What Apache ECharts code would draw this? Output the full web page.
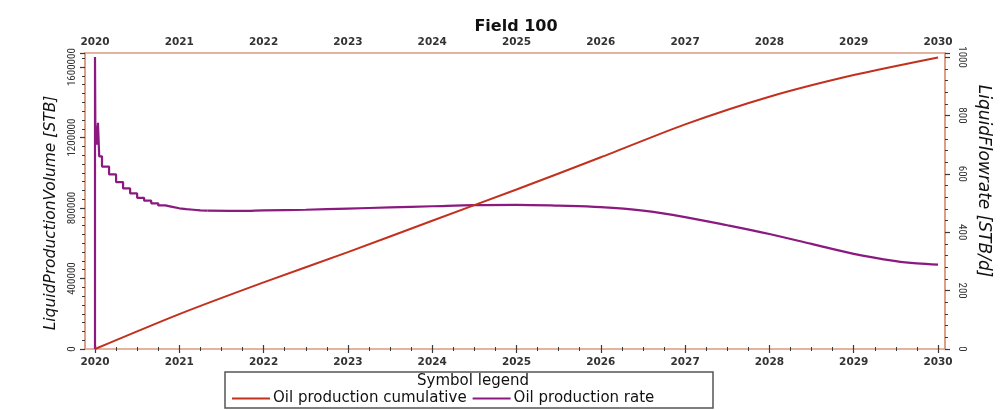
<!DOCTYPE html>
<html>
<head>
<meta charset="utf-8">
<script src="https://cdn.jsdelivr.net/npm/echarts@6/dist/echarts.min.js"></script>
<style>
  html, body { margin: 0; padding: 0; background: #ffffff; }
  #chart { width: 1005px; height: 410px; }
</style>
</head>
<body>
<div id="chart"></div>
<script>
// Field 100 – oil production forecast 2020–2030
const titleText = 'Field 100';
const legendTitle = 'Symbol legend';
const cumName = 'Oil production cumulative';
const rateName = 'Oil production rate';
const leftAxisName = 'LiquidProductionVolume [STB]';
const rightAxisName = 'LiquidFlowrate [STB/d]';
const yearMin = 2020;
const yearMax = 2030;

// Cumulative oil production [STB] at the start of each year
const cumYears  = [2020, 2021, 2022, 2023, 2024, 2025, 2026, 2027, 2028, 2029, 2030];
const cumValues = [0, 198000, 378000, 550000, 728000, 905000, 1088000, 1275000, 1432000, 1555000, 1655000];

// Oil production rate [STB/d]: start-up spike and monthly steps (decimal years)
const rateEarlyYears  = [2020.0, 2020.0, 2020.004, 2020.02, 2020.035, 2020.05,
                         2020.083, 2020.167, 2020.25, 2020.333, 2020.417, 2020.5,
                         2020.583, 2020.667, 2020.75, 2020.833, 2020.917, 2021.0,
                         2021.083, 2021.167, 2021.25, 2021.333];
const rateEarlyValues = [0, 1000, 770, 700, 775, 660,
                         625, 598, 572, 550, 533, 518,
                         508, 499, 492, 487, 482, 479,
                         477, 475, 474, 474];

// Oil production rate [STB/d]: plateau and decline
const rateLateYears  = [2021.333, 2021.75, 2022.0, 2022.5, 2023.0, 2023.5, 2024.0, 2024.5,
                        2025.0, 2025.5, 2026.0, 2026.5, 2027.0, 2027.5, 2028.0, 2028.5,
                        2029.0, 2029.5, 2029.75, 2030.0];
const rateLateValues = [474, 473, 475, 477, 481, 485, 489, 493,
                        494, 491, 486, 474, 452, 424, 394, 360,
                        326, 301, 293, 289];

const zip = (xs, ys) => xs.map((x, i) => [x, ys[i]]);

const frameColor = '#d99a7e';
const tickColor = '#3a3a3a';
const cumColor = '#c2301e';
const rateColor = '#8a1a80';
const fontMain = "'DejaVu Sans', Verdana, sans-serif";
const fontNarrow = "'Liberation Sans Narrow', 'Roboto Condensed', 'DejaVu Sans Condensed', sans-serif";

function yearAxis(position, margin) {
  return {
    type: 'value',
    position: position,
    min: yearMin,
    max: yearMax,
    interval: 1,
    axisLine: { show: false },
    splitLine: { show: false },
    axisTick: { show: true, inside: true, length: 4, lineStyle: { color: tickColor, width: 1.2 } },
    minorTick: { show: true, splitNumber: 4, length: 2, lineStyle: { color: tickColor, width: 1 } },
    minorSplitLine: { show: false },
    axisLabel: {
      margin: margin,
      fontFamily: fontMain,
      fontWeight: 'bold',
      fontSize: 10.5,
      color: '#333333',
      formatter: v => String(v)
    }
  };
}

const chart = echarts.init(document.getElementById('chart'), null, { renderer: 'canvas' });

chart.setOption({
  animation: false,
  backgroundColor: '#ffffff',
  grid: { left: 95, right: 67, top: 53, bottom: 61, containLabel: false },
  xAxis: [
    yearAxis('bottom', 8),
    yearAxis('top', 5)
  ],
  yAxis: [
    {
      type: 'value',
      position: 'left',
      offset: 10,
      min: 0,
      max: 1680000,
      interval: 400000,
      name: leftAxisName,
      nameLocation: 'middle',
      nameGap: 24,
      nameTextStyle: {
        fontFamily: fontMain, fontStyle: 'italic', fontSize: 15.5, color: '#111111',
        padding: [0, 24, 0, 0]
      },
      axisLine: { show: true, lineStyle: { color: frameColor, width: 1.5 } },
      axisTick: { show: true, length: 5, lineStyle: { color: tickColor, width: 1.2 } },
      minorTick: { show: true, splitNumber: 8, length: 3, lineStyle: { color: tickColor, width: 1 } },
      splitLine: { show: false },
      axisLabel: {
        rotate: 90,
        margin: 7,
        showMaxLabel: false,
        fontFamily: fontNarrow,
        fontSize: 11,
        color: '#333333',
        formatter: v => String(v)
      }
    },
    {
      type: 'value',
      position: 'right',
      offset: 7,
      min: 0,
      max: 1014,
      interval: 200,
      name: rightAxisName,
      nameLocation: 'middle',
      nameRotate: -90,
      nameGap: 25,
      nameTextStyle: {
        fontFamily: fontMain, fontStyle: 'italic', fontSize: 17, color: '#111111',
        padding: [0, 40, 0, 0]
      },
      axisLine: { show: true, lineStyle: { color: frameColor, width: 1.5 } },
      axisTick: { show: true, length: 5, lineStyle: { color: tickColor, width: 1.2 } },
      minorTick: { show: true, splitNumber: 5, length: 3, lineStyle: { color: tickColor, width: 1 } },
      splitLine: { show: false },
      axisLabel: {
        rotate: -90,
        margin: 11,
        showMaxLabel: false,
        fontFamily: fontNarrow,
        fontSize: 11,
        color: '#333333',
        formatter: v => String(v)
      }
    }
  ],
  legend: {
    data: [cumName, rateName],
    left: 232,
    top: 391,
    padding: 0,
    itemGap: 6,
    itemWidth: 38,
    itemHeight: 2,
    icon: 'rect',
    textStyle: { fontFamily: fontMain, fontSize: 15, color: '#111111', padding: [0, 0, 0, -2] }
  },
  graphic: [
    {
      type: 'rect',
      silent: true,
      z: 0,
      shape: { x: 85, y: 53, width: 860, height: 296 },
      style: { fill: 'none', stroke: frameColor, lineWidth: 1.5 }
    },
    {
      type: 'text',
      silent: true,
      x: 516, y: 27,
      style: {
        text: titleText,
        font: "bold 16px 'DejaVu Sans', Verdana, sans-serif",
        fill: '#111111',
        textAlign: 'center',
        textVerticalAlign: 'middle'
      }
    },
    {
      type: 'rect',
      silent: true,
      shape: { x: 225, y: 372, width: 488, height: 36 },
      style: { fill: 'none', stroke: '#555555', lineWidth: 1.5 }
    },
    {
      type: 'text',
      silent: true,
      x: 473, y: 381,
      style: {
        text: legendTitle,
        font: "15px 'DejaVu Sans', Verdana, sans-serif",
        fill: '#111111',
        textAlign: 'center',
        textVerticalAlign: 'middle'
      }
    }
  ],
  series: [
    {
      name: cumName,
      type: 'line',
      xAxisIndex: 0,
      yAxisIndex: 0,
      data: zip(cumYears, cumValues),
      symbol: 'none',
      smooth: 0.25,
      lineStyle: { color: cumColor, width: 2 },
      itemStyle: { color: cumColor },
      z: 3
    },
    {
      name: rateName,
      type: 'line',
      xAxisIndex: 0,
      yAxisIndex: 1,
      data: zip(rateEarlyYears, rateEarlyValues),
      symbol: 'none',
      step: 'end',
      lineStyle: { color: rateColor, width: 2.2 },
      itemStyle: { color: rateColor },
      z: 2
    },
    {
      name: rateName,
      type: 'line',
      xAxisIndex: 0,
      yAxisIndex: 1,
      data: zip(rateLateYears, rateLateValues),
      symbol: 'none',
      smooth: 0.35,
      lineStyle: { color: rateColor, width: 2.2 },
      itemStyle: { color: rateColor },
      z: 2
    }
  ]
});
</script>
</body>
</html>
